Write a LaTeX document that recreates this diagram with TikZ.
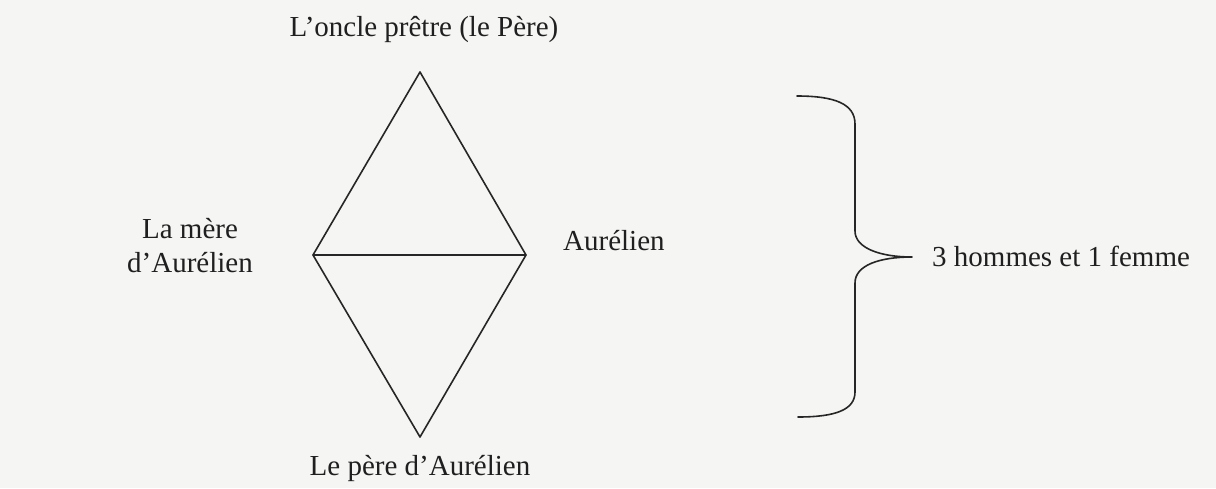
\documentclass[tikz,border=0pt]{standalone}
\usepackage{fontspec}
\setmainfont{Liberation Serif}
\begin{document}
\begin{tikzpicture}[x=1pt,y=-1pt,
  lbl/.style={anchor=base,inner sep=0pt,font=\fontsize{29}{34}\selectfont,text=black!88},
  edge/.style={line width=1.6pt,draw=black!85,line join=round,line cap=round}]
\fill[fill={rgb,255:red,245;green,245;blue,243}] (0,0) rectangle (1216,488);
\useasboundingbox (0,0) rectangle (1216,488);
% vertices
\coordinate (top) at (420,72);
\coordinate (left) at (313,255);
\coordinate (right) at (526,255);
\coordinate (bot) at (420,437);
\draw[edge] (top) -- (right) -- (bot) -- (left) -- cycle;
\draw[edge] (left) -- (right);
% labels
\node[lbl] (ltop) at (424,36) {L’oncle prêtre (le Père)};
\node[lbl] (lbot) at (420,475) {Le père d’Aurélien};
\node[lbl] (lm1) at (190,238) {La mère};
\node[lbl] (lm2) at (190,272) {d’Aurélien};
\node[lbl,anchor=base west] (lau) at (563,250) {Aurélien};
\node[lbl,anchor=base west] (lsum) at (932,266) {3 hommes et 1 femme};
% brace
\coordinate (b1) at (797,96);
\coordinate (tip) at (912,257);
\coordinate (b2) at (798,417);
\draw[edge] (b1) .. controls (835,96) and (855,104) .. (855,124)
  -- (855,231) .. controls (855,248) and (880,257) .. (tip)
  .. controls (880,257) and (855,265) .. (855,283)
  -- (855,392) .. controls (855,410) and (835,417) .. (b2);
\end{tikzpicture}
\end{document}
